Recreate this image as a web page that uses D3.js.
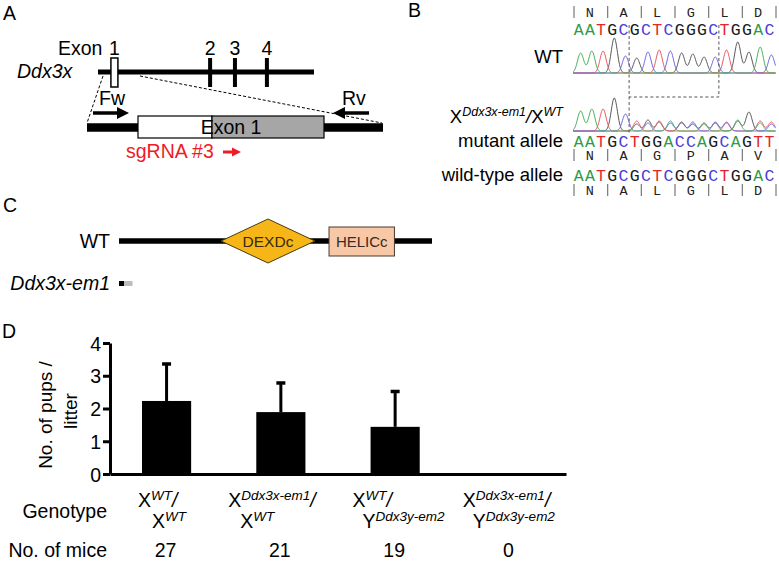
<!DOCTYPE html>
<html><head><meta charset="utf-8">
<script src="https://cdn.jsdelivr.net/npm/d3@7"></script>
<style>
body{margin:0;background:#fff}
svg{display:block}
text{font-family:Arial,"Liberation Sans",sans-serif;fill:#000}
.mono{font-family:"Liberation Mono","Courier New",monospace}
</style>
</head><body>
<svg id="chart" width="779" height="561"></svg>
<script>
// ---------------- DATA ----------------
const panelLetters = ["A","B","C","D"];
// Panel A: gene structure (gene units 0-100)
const exonNames = ["1","2","3","4"];
const exonPos = [7.6, 51.9, 63.4, 78.2];
// Panel B: sequences
const wtSeq  = "AATGCGCTCGGGCTGGAC";
const mutSeq = "AATGCTGGACCAGCAGTT";
const wtAA   = ["N","A","L","G","L","D"];
const mutAA  = ["N","A","G","P","A","V"];
const wtPeakHeights  = [20,22,22,35,17,15,21,23,22,20,19,16,16,23,31,21,26,18];
const hetMutHeights  = [20,22,22,33,17,10,11,9,10,8,9,7,8,9,11,8,10,9];
const hetWtHeights   = [0,0,0,0,0,7,8,10,8,9,7,8,9,8,10,11,8,7];
const deletionStart = 5, deletionEnd = 13;
// Panel C: domains (protein units 0-100)
const domainNames = ["DEXDc","HELICc"];
const domainStart = [32.6, 67.1];
const domainEnd   = [62.6, 88.0];
// Panel D: bar chart
const genoLine1Base = ["X","X","X","X"];
const genoLine1Sup  = ["WT","Ddx3x-em1","WT","Ddx3x-em1"];
const genoLine2Base = ["X","X","Y","Y"];
const genoLine2Sup  = ["WT","WT","Ddx3y-em2","Ddx3y-em2"];
const pupsMean = [2.23, 1.89, 1.44, 0];
const pupsErr  = [1.16, 0.92, 1.11, 0];
const miceN    = [27, 21, 19, 0];
const yTicks   = [0,1,2,3,4];

// ---------------- DRAW ----------------
const svg = d3.select("#chart");
const FS = 19.5;

// panel letters
const letterPos = [[3,20],[408,17],[3,212],[2,338]];
svg.selectAll("text.plab").data(panelLetters).join("text")
  .attr("class","plab").attr("x",(d,i)=>letterPos[i][0]).attr("y",(d,i)=>letterPos[i][1])
  .attr("font-size",19.5).text(d=>d);

function arrowHead(g, x, y, dir, size, color){
  g.append("path")
    .attr("d", `M${x},${y} L${x-dir*size},${y-size*0.5} L${x-dir*size},${y+size*0.5} Z`)
    .attr("fill", color);
}

// ===== Panel A =====
(function(){
  const g = svg.append("g");
  const gx = d3.scaleLinear().domain([0,100]).range([98,314]);
  g.append("line").attr("x1",gx(0)).attr("x2",gx(100)).attr("y1",72).attr("y2",72)
    .attr("stroke","#000").attr("stroke-width",5);
  exonPos.forEach((p,i)=>{
    if(i===0){
      g.append("rect").attr("x",gx(p)-3.5).attr("y",58).attr("width",7).attr("height",29)
        .attr("fill","#fff").attr("stroke","#000").attr("stroke-width",1.5);
    } else {
      g.append("line").attr("x1",gx(p)).attr("x2",gx(p)).attr("y1",58).attr("y2",87)
        .attr("stroke","#000").attr("stroke-width",4);
    }
  });
  g.selectAll("text.ex").data(exonNames).join("text").attr("class","ex")
    .attr("x",(d,i)=>gx(exonPos[i])).attr("y",55).attr("text-anchor","middle")
    .attr("font-size",FS).text(d=>d);
  g.append("text").attr("x",58).attr("y",55).attr("font-size",FS).text("Exon");
  g.append("text").attr("x",17).attr("y",78).attr("font-size",FS).attr("font-style","italic").text("Ddx3x");
  // dashed zoom lines
  g.append("line").attr("x1",103).attr("y1",76).attr("x2",87).attr("y2",123)
    .attr("stroke","#000").attr("stroke-width",1).attr("stroke-dasharray","3,2");
  g.append("line").attr("x1",140).attr("y1",76).attr("x2",382).attr("y2",123)
    .attr("stroke","#000").attr("stroke-width",1).attr("stroke-dasharray","3,2");
  // zoomed locus
  g.append("line").attr("x1",87).attr("x2",383).attr("y1",127.5).attr("y2",127.5)
    .attr("stroke","#000").attr("stroke-width",8.5);
  g.append("rect").attr("x",138).attr("y",116).attr("width",74).attr("height",22)
    .attr("fill","#fff").attr("stroke","#000").attr("stroke-width",1.2);
  g.append("rect").attr("x",212).attr("y",116).attr("width",112).attr("height",22)
    .attr("fill","#a6a6a6").attr("stroke","#000").attr("stroke-width",1.2);
  g.append("text").attr("x",231).attr("y",134).attr("text-anchor","middle").attr("font-size",FS).text("Exon 1");
  // primers
  g.append("text").attr("x",99).attr("y",105).attr("font-size",FS).text("Fw");
  g.append("line").attr("x1",93).attr("x2",118).attr("y1",113).attr("y2",113).attr("stroke","#000").attr("stroke-width",3.5);
  arrowHead(g,129,113,1,12,"#000");
  g.append("text").attr("x",342).attr("y",105).attr("font-size",FS).text("Rv");
  g.append("line").attr("x1",369).attr("x2",344).attr("y1",113).attr("y2",113).attr("stroke","#000").attr("stroke-width",3.5);
  arrowHead(g,333,113,-1,12,"#000");
  // sgRNA
  g.append("text").attr("x",126).attr("y",158).attr("font-size",FS).style("fill","#ee1c25").text("sgRNA #3");
  g.append("line").attr("x1",223).attr("x2",233).attr("y1",152).attr("y2",152).attr("stroke","#ee1c25").attr("stroke-width",3);
  arrowHead(g,241,152,1,9,"#ee1c25");
})();

// ===== Panel B =====
(function(){
  const g = svg.append("g");
  const xb = d3.scaleLinear().domain([0,18]).range([573,775]);
  const baseColor  = {A:"#2f9a45", T:"#e3262b", G:"#1a1a1a", C:"#4a40d6"};
  const traceColor = {A:"#49b05a", T:"#ea5a5f", G:"#5a5a5a", C:"#6d68e6"};

  function seqRow(seq, y){
    g.selectAll(null).data(seq.split("")).join("text").attr("class","mono")
      .attr("x",(d,i)=>xb(i+0.5)).attr("y",y).attr("text-anchor","middle")
      .attr("font-size",16.5).style("fill",d=>baseColor[d]).text(d=>d);
  }
  function aaRow(aa, y){
    g.selectAll(null).data(aa).join("text").attr("class","mono")
      .attr("x",(d,i)=>xb(3*i+1.5)).attr("y",y).attr("text-anchor","middle")
      .attr("font-size",13.5).style("fill","#222").text(d=>d);
    g.selectAll(null).data(d3.range(aa.length+1)).join("line")
      .attr("x1",k=>xb(3*k)+1).attr("x2",k=>xb(3*k)+1).attr("y1",y-11).attr("y2",y+1)
      .attr("stroke","#777").attr("stroke-width",1.2);
  }
  function chrom(seqs, heights, y0){
    const sigma = 3.1;
    const xs = d3.range(573, 776, 0.5);
    ["G","T","C","A"].forEach(b=>{
      const pts = xs.map(x=>{
        let v = 0;
        seqs.forEach((s,si)=>{
          s.split("").forEach((c,i)=>{
            if(c===b){
              const px = xb(i+0.5)+2;
              v += heights[si][i]*Math.exp(-((x-px)**2)/(2*sigma*sigma));
            }
          });
        });
        return [x, y0 - v];
      });
      g.append("path").attr("d", d3.line()(pts)).attr("fill","none")
        .attr("stroke",traceColor[b]).attr("stroke-width",1);
    });
  }
  aaRow(wtAA, 17);
  seqRow(wtSeq, 35);
  chrom([wtSeq],[wtPeakHeights],73);
  chrom([mutSeq, wtSeq],[hetMutHeights, hetWtHeights],131);
  seqRow(mutSeq, 147);
  aaRow(mutAA, 160);
  seqRow(wtSeq, 181);
  aaRow(wtAA, 195);

  const dash = "3,2.5";
  g.append("path").attr("d",`M${xb(deletionStart)},25 L${xb(deletionStart)},133`)
    .attr("fill","none").attr("stroke","#555").attr("stroke-width",1).attr("stroke-dasharray",dash);
  g.append("path").attr("d",`M${xb(deletionEnd)},25 L${xb(deletionEnd)},97 L${xb(deletionStart)},97`)
    .attr("fill","none").attr("stroke","#555").attr("stroke-width",1).attr("stroke-dasharray",dash);

  g.append("text").attr("x",563).attr("y",63).attr("text-anchor","end").attr("font-size",18.5).text("WT");
  const t = g.append("text").attr("x",563).attr("y",123).attr("text-anchor","end").attr("font-size",18.5);
  t.append("tspan").text("X");
  t.append("tspan").attr("font-size",12.5).attr("font-style","italic").attr("dy",-7).text("Ddx3x-em1");
  t.append("tspan").attr("dy",7).attr("font-style","italic").text("/");
  t.append("tspan").text("X");
  t.append("tspan").attr("font-size",12.5).attr("font-style","italic").attr("dy",-7).text("WT");
  g.append("text").attr("x",563).attr("y",147).attr("text-anchor","end").attr("font-size",18.5).text("mutant allele");
  g.append("text").attr("x",563).attr("y",181).attr("text-anchor","end").attr("font-size",18.5).text("wild-type allele");
})();

// ===== Panel C =====
(function(){
  const g = svg.append("g");
  const px = d3.scaleLinear().domain([0,100]).range([119,432]);
  const yc = 241;
  g.append("line").attr("x1",px(0)).attr("x2",px(100)).attr("y1",yc).attr("y2",yc)
    .attr("stroke","#000").attr("stroke-width",5.5);
  const x0 = px(domainStart[0]), x1 = px(domainEnd[0]), xm=(x0+x1)/2;
  g.append("path").attr("d",`M${x0},${yc} L${xm},${yc-22} L${x1},${yc} L${xm},${yc+22} Z`)
    .attr("fill","#f6b617").attr("stroke","#4a3a10").attr("stroke-width",1);
  g.append("text").attr("x",xm).attr("y",yc+5.5).attr("text-anchor","middle").attr("font-size",15.5)
    .style("fill","#3a2a10").text(domainNames[0]);
  const h0 = px(domainStart[1]), h1 = px(domainEnd[1]);
  g.append("rect").attr("x",h0).attr("y",yc-14).attr("width",h1-h0).attr("height",29)
    .attr("fill","#f7c7a6").attr("stroke","#4a3a30").attr("stroke-width",1);
  g.append("text").attr("x",(h0+h1)/2).attr("y",yc+6).attr("text-anchor","middle").attr("font-size",15)
    .style("fill","#3a2a20").text(domainNames[1]);
  g.append("text").attr("x",110).attr("y",248).attr("text-anchor","end").attr("font-size",FS).text("WT");
  g.append("text").attr("x",110).attr("y",290).attr("text-anchor","end").attr("font-size",FS)
    .attr("font-style","italic").text("Ddx3x-em1");
  g.append("rect").attr("x",119).attr("y",281).attr("width",5).attr("height",5).attr("fill","#000");
  g.append("rect").attr("x",124).attr("y",281).attr("width",8.5).attr("height",5).attr("fill","#bdbdbd");
})();

// ===== Panel D =====
(function(){
  const g = svg.append("g");
  const y = d3.scaleLinear().domain([0,4]).range([474,343]);
  const x = d3.scaleBand().domain(d3.range(pupsMean.length)).range([110,566])
    .paddingInner(0.57).paddingOuter(0.28);
  const ya = g.append("g").attr("transform","translate(110,0)")
    .call(d3.axisLeft(y).tickValues(yTicks).tickFormat(d3.format("d")).tickSize(7).tickSizeOuter(0).tickPadding(2));
  ya.select(".domain").attr("stroke-width",3);
  ya.selectAll(".tick line").attr("stroke-width",3);
  ya.selectAll(".tick text").attr("font-size",19.5).attr("font-family","Arial,'Liberation Sans',sans-serif")
    .style("fill","#000").attr("dy","0.36em");
  const xa = g.append("g").attr("transform","translate(0,474)")
    .call(d3.axisBottom(x).tickSize(0).tickSizeOuter(0).tickFormat(""));
  xa.select(".domain").attr("stroke-width",3);

  g.selectAll("rect.bar").data(pupsMean).join("rect").attr("class","bar")
    .attr("x",(d,i)=>x(i)).attr("width",x.bandwidth())
    .attr("y",d=>y(d)).attr("height",d=>y(0)-y(d)).attr("fill","#000");
  const eb = pupsMean.map((m,i)=>({i,m,e:pupsErr[i]})).filter(d=>d.e>0);
  g.selectAll("line.err").data(eb).join("line").attr("class","err")
    .attr("x1",d=>x(d.i)+x.bandwidth()/2).attr("x2",d=>x(d.i)+x.bandwidth()/2)
    .attr("y1",d=>y(d.m)).attr("y2",d=>y(d.m+d.e)).attr("stroke","#000").attr("stroke-width",3);
  g.selectAll("line.cap").data(eb).join("line").attr("class","cap")
    .attr("x1",d=>x(d.i)+x.bandwidth()/2-4.5).attr("x2",d=>x(d.i)+x.bandwidth()/2+4.5)
    .attr("y1",d=>y(d.m+d.e)+1).attr("y2",d=>y(d.m+d.e)+1).attr("stroke","#000").attr("stroke-width",3.5);

  g.append("text").attr("transform","translate(52,415) rotate(-90)")
    .attr("text-anchor","middle").attr("font-size",19).text("No. of pups /");
  g.append("text").attr("transform","translate(77,411) rotate(-90)")
    .attr("text-anchor","middle").attr("font-size",19).text("litter");

  const dx1 = [-4,-28,-18,-22], dx2 = [10,-16,-8,-12];
  function supLabel(xp, yp, base, sup, slash){
    const t = g.append("text").attr("x",xp).attr("y",yp).attr("font-size",FS);
    t.append("tspan").text(base);
    t.append("tspan").attr("font-size",13.5).attr("font-style","italic").attr("dy",-7).text(sup);
    if(slash) t.append("tspan").attr("dy",7).attr("font-style","italic").text("/");
  }
  pupsMean.forEach((d,i)=>{
    supLabel(x(i)+dx1[i], 507, genoLine1Base[i], genoLine1Sup[i], true);
    supLabel(x(i)+dx2[i], 528, genoLine2Base[i], genoLine2Sup[i], false);
  });
  g.selectAll("text.n").data(miceN).join("text").attr("class","n")
    .attr("x",(d,i)=>x(i)+x.bandwidth()/2 - 1).attr("y",557).attr("text-anchor","middle")
    .attr("font-size",FS).text(d=>d);
  g.append("text").attr("x",107).attr("y",518).attr("text-anchor","end").attr("font-size",FS).text("Genotype");
  g.append("text").attr("x",107).attr("y",557).attr("text-anchor","end").attr("font-size",FS).text("No. of mice");
})();
</script>
</body></html>
